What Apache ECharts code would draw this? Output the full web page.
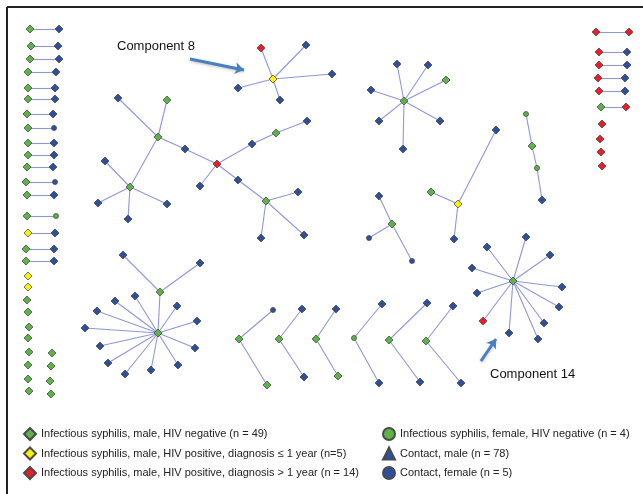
<!DOCTYPE html>
<html>
<head>
<meta charset="utf-8">
<script src="https://cdn.jsdelivr.net/npm/echarts@6/dist/echarts.min.js"></script>
<style>
  html, body { margin: 0; padding: 0; background: #fff; }
  #chart { width: 643px; height: 494px; }
</style>
</head>
<body>
<div id="chart"></div>
<script>
// legend labels, one per node type
const categoryNames = [
  "Infectious syphilis, male, HIV negative (n = 49)",
  "Infectious syphilis, male, HIV positive, diagnosis \u2264 1 year (n=5)",
  "Infectious syphilis, male, HIV positive, diagnosis > 1 year (n = 14)",
  "Infectious syphilis, female, HIV negative (n = 4)",
  "Contact, male (n = 78)",
  "Contact, female (n = 5)"
];
const categoryCodes = ["G", "Y", "R", "F", "B", "C"];

// node = [type, x, y] in picture units; edges = index pairs inside a component
const leftDyads = [
  ["G", 30, 29, "B", 59, 29], ["G", 31, 46, "B", 58, 46], ["G", 30, 59, "B", 59, 59],
  ["G", 28, 72, "B", 56, 72], ["G", 28, 88, "B", 55, 88], ["G", 28, 99, "B", 55, 99],
  ["G", 27, 114, "B", 53, 114], ["G", 28, 128, "C", 54, 128], ["G", 28, 143, "B", 54, 143],
  ["G", 28, 155, "B", 54, 155], ["G", 27, 167, "B", 53, 167], ["G", 26, 182, "C", 55, 182],
  ["G", 27, 195, "B", 54, 195], ["G", 27, 216, "F", 56, 216], ["Y", 28, 233, "B", 55, 233],
  ["G", 26, 249, "B", 54, 249], ["G", 26, 261, "B", 54, 261]
];
const rightDyads = [
  ["R", 596, 32, "R", 629, 32], ["R", 599, 52, "B", 627, 52], ["R", 599, 65, "B", 627, 65],
  ["R", 598, 78, "B", 625, 78], ["R", 599, 91, "B", 625, 91], ["G", 601, 107, "R", 626, 107]
];
const isolates = [
  ["Y", 28, 276], ["Y", 28, 287], ["G", 27, 300], ["G", 28, 312], ["G", 29, 327],
  ["G", 28, 338], ["G", 29, 352], ["G", 52, 353], ["G", 28, 365], ["G", 51, 366],
  ["G", 28, 379], ["G", 50, 381], ["G", 29, 391], ["G", 51, 394],
  ["R", 602, 124], ["R", 600, 139], ["R", 601, 152], ["R", 602, 166]
];
const chevrons = [
  ["C", 273, 310, "G", 239, 339, "G", 267, 385],
  ["B", 302, 309, "G", 279, 339, "B", 304, 377],
  ["B", 336, 309, "G", 316, 339, "G", 338, 376],
  ["B", 382, 304, "F", 354, 338, "B", 379, 383],
  ["B", 427, 303, "G", 389, 340, "B", 420, 382],
  ["B", 453, 306, "G", 426, 341, "B", 461, 383]
];

const comp8Nodes = [["Y", 273, 79], ["R", 261, 48], ["B", 306, 45], ["B", 332, 74], ["B", 238, 88], ["B", 280, 100]];
const comp8Edges = [[0, 1], [0, 2], [0, 3], [0, 4], [0, 5]];

const treeNodes = [
  ["G", 158, 137], ["B", 118, 98], ["G", 167, 100], ["B", 185, 149], ["R", 217, 164],
  ["G", 130, 187], ["B", 105, 161], ["B", 98, 203], ["B", 128, 219], ["B", 167, 204],
  ["B", 200, 186], ["B", 252, 144], ["G", 276, 133], ["B", 307, 121], ["B", 238, 180],
  ["G", 266, 201], ["B", 298, 192], ["B", 304, 235], ["B", 261, 238]
];
const treeEdges = [
  [0, 1], [0, 2], [0, 3], [3, 4], [0, 5], [5, 6], [5, 7], [5, 8], [5, 9],
  [4, 10], [4, 11], [11, 12], [12, 13], [4, 14], [14, 15], [15, 16], [15, 17], [15, 18]
];

const starNENodes = [["G", 404, 101], ["B", 397, 64], ["B", 428, 65], ["G", 446, 80], ["B", 371, 90], ["B", 379, 121], ["B", 440, 121], ["B", 403, 149]];
const starNEEdges = [[0, 1], [0, 2], [0, 3], [0, 4], [0, 5], [0, 6], [0, 7]];

const triadNodes = [["G", 392, 224], ["B", 379, 196], ["C", 369, 238], ["C", 412, 261]];
const triadEdges = [[0, 1], [0, 2], [0, 3]];

const yellowNodes = [["Y", 458, 204], ["G", 431, 192], ["B", 454, 239], ["B", 496, 130]];
const yellowEdges = [[0, 1], [0, 2], [0, 3]];

const chainNodes = [["F", 526, 114], ["G", 532, 146], ["F", 537, 168], ["B", 542, 200]];
const chainEdges = [[0, 1], [1, 2], [2, 3]];

const comp14Nodes = [
  ["G", 513, 281], ["B", 526, 237], ["B", 550, 255], ["B", 487, 247], ["B", 472, 268], ["B", 562, 287],
  ["B", 477, 293], ["B", 559, 307], ["B", 544, 323], ["R", 483, 321], ["B", 509, 333], ["B", 538, 339]
];
const comp14Edges = [[0, 1], [0, 2], [0, 3], [0, 4], [0, 5], [0, 6], [0, 7], [0, 8], [0, 9], [0, 10], [0, 11]];

const starSWNodes = [
  ["G", 158, 333], ["G", 160, 292], ["B", 123, 255], ["B", 200, 263],
  ["B", 115, 301], ["B", 135, 296], ["B", 97, 311], ["B", 85, 328], ["B", 100, 346], ["B", 108, 363],
  ["B", 125, 374], ["B", 151, 370], ["B", 178, 365], ["B", 195, 348], ["B", 197, 321], ["B", 177, 306]
];
const starSWEdges = [
  [1, 0], [1, 2], [1, 3], [0, 4], [0, 5], [0, 6], [0, 7], [0, 8], [0, 9],
  [0, 10], [0, 11], [0, 12], [0, 13], [0, 14], [0, 15]
];

// annotation arrows [from, to]
const arrows = [[[190, 59], [244, 70]], [[481, 361], [496, 339]]];

const nodes = [];
const links = [];
function addComponent(list, edges) {
  const base = nodes.length;
  list.forEach(function (n) {
    nodes.push({
      name: "n" + nodes.length,
      value: [n[1], n[2]],
      category: categoryCodes.indexOf(n[0])
    });
  });
  edges.forEach(function (e) {
    links.push({ source: base + e[0], target: base + e[1] });
  });
}
leftDyads.concat(rightDyads).forEach(function (d) {
  addComponent([[d[0], d[1], d[2]], [d[3], d[4], d[5]]], [[0, 1]]);
});
isolates.forEach(function (s) { addComponent([s], []); });
chevrons.forEach(function (c) {
  addComponent([[c[0], c[1], c[2]], [c[3], c[4], c[5]], [c[6], c[7], c[8]]], [[0, 1], [1, 2]]);
});
addComponent(comp8Nodes, comp8Edges);
addComponent(treeNodes, treeEdges);
addComponent(starNENodes, starNEEdges);
addComponent(triadNodes, triadEdges);
addComponent(yellowNodes, yellowEdges);
addComponent(chainNodes, chainEdges);
addComponent(comp14Nodes, comp14Edges);
addComponent(starSWNodes, starSWEdges);

const outline = { borderColor: "#4a4a4a", borderWidth: 0.8 };
const categories = [
  { name: categoryNames[0], symbol: "diamond", symbolSize: 8, itemStyle: Object.assign({ color: "#5db446" }, outline) },
  { name: categoryNames[1], symbol: "diamond", symbolSize: 8, itemStyle: Object.assign({ color: "#fff200" }, outline) },
  { name: categoryNames[2], symbol: "diamond", symbolSize: 8, itemStyle: Object.assign({ color: "#ee1c24" }, outline) },
  { name: categoryNames[3], symbol: "circle", symbolSize: 5, itemStyle: Object.assign({ color: "#5db446" }, outline) },
  { name: categoryNames[4], symbol: "diamond", symbolSize: 8, itemStyle: Object.assign({ color: "#2d4f9e" }, outline) },
  { name: categoryNames[5], symbol: "circle", symbolSize: 5, itemStyle: Object.assign({ color: "#2d4f9e" }, outline) }
];

const font = "'Liberation Sans', Arial, sans-serif";
const legendText = { fontSize: 11, fontFamily: font, color: "#222" };

const chart = echarts.init(document.getElementById("chart"));
chart.setOption({
  animation: false,
  grid: { left: 0, right: 0, top: 0, bottom: 0 },
  xAxis: { type: "value", min: 0, max: 643, show: false },
  yAxis: { type: "value", min: 0, max: 494, inverse: true, show: false },
  legend: [
    {
      orient: "vertical", left: 23, top: 427, padding: 0, itemWidth: 12, itemHeight: 12, itemGap: 5.5,
      selectedMode: false, textStyle: legendText,
      data: [
        { name: categoryNames[0], icon: "diamond" },
        { name: categoryNames[1], icon: "diamond" },
        { name: categoryNames[2], icon: "diamond" }
      ]
    },
    {
      orient: "vertical", left: 382, top: 427, padding: 0, itemWidth: 12, itemHeight: 12, itemGap: 5.5,
      selectedMode: false, textStyle: legendText,
      data: [
        { name: categoryNames[3], icon: "circle" },
        { name: categoryNames[4], icon: "triangle" },
        { name: categoryNames[5], icon: "circle" }
      ]
    }
  ],
  graphic: [
    { type: "line", shape: { x1: 7, y1: 7, x2: 643, y2: 7 }, style: { stroke: "#222", lineWidth: 2 } },
    { type: "line", shape: { x1: 7, y1: 7, x2: 7, y2: 494 }, style: { stroke: "#222", lineWidth: 2 } },
    { type: "text", left: 117, top: 40, style: { text: "Component 8", font: "13px " + font, fill: "#111" } },
    { type: "text", left: 490, top: 368, style: { text: "Component 14", font: "13px " + font, fill: "#111" } }
  ],
  series: [
    {
      type: "graph",
      layout: "none",
      coordinateSystem: "cartesian2d",
      roam: false,
      categories: categories,
      data: nodes,
      links: links,
      label: { show: false },
      emphasis: { disabled: true },
      lineStyle: { color: "#8e97d8", width: 1.1, opacity: 1, curveness: 0 },
      z: 3
    },
    {
      type: "lines",
      coordinateSystem: "cartesian2d",
      symbol: ["none", "arrow"],
      symbolSize: 9,
      lineStyle: {
        color: "#4a7fc1", width: 3, opacity: 1,
        shadowBlur: 3, shadowColor: "rgba(0,0,0,0.25)", shadowOffsetY: 1
      },
      data: arrows.map(function (a) { return { coords: a }; }),
      z: 2
    }
  ]
});
</script>
</body>
</html>
